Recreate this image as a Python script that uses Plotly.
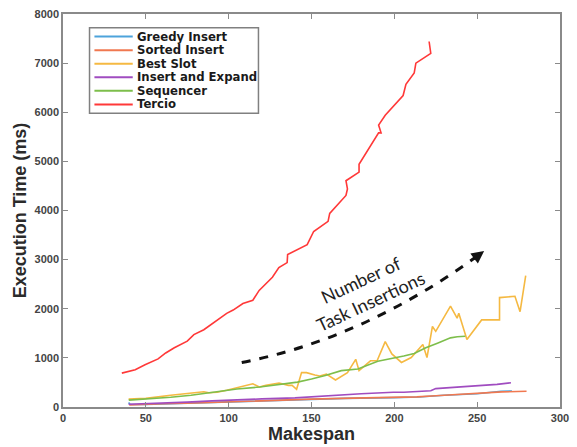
import plotly.graph_objects as go

# ---------------- data ----------------
series_names = ["Greedy Insert", "Sorted Insert", "Best Slot",
                "Insert and Expand", "Sequencer", "Tercio"]
series_colors = ["#4DA3DB", "#F07850", "#F5B942", "#A04CC0", "#7DBE4B", "#FF3838"]

greedy_x = [39.6, 40.5, 50, 60, 80, 98.8, 120, 150, 170, 200, 215, 230, 250, 264.5, 271]
greedy_y = [90, 50, 52, 62, 78, 100, 120, 150, 175, 190, 205, 240, 270, 320, 327]

sorted_x = [40, 50, 60, 80, 98.8, 120, 150, 175, 199.4, 213.6, 225, 240, 255, 265, 279.8]
sorted_y = [40, 55, 65, 80, 105, 125, 160, 180, 195, 207, 230, 260, 285, 307, 320]

best_x = [39.6, 50, 65, 75, 85, 88, 93, 98.8, 110.6, 114.6, 118.5, 122.5, 130.4, 136, 138.3,
          141, 144, 147, 152, 155, 159, 164.5, 171.7, 176.7, 178.7, 185.6, 189.6, 194.5,
          198.5, 204.3, 210.2, 217.2, 219.7, 223, 225, 233.9, 237.9, 238.9, 243.8, 252.7,
          263.5, 263.5, 272.8, 275.9, 279.3]
best_y = [160, 175, 240, 270, 310, 290, 300, 340, 440, 473, 407, 440, 487, 440, 440,
          360, 700, 700, 650, 630, 670, 550, 700, 970, 740, 940, 940, 1330,
          1080, 907, 1007, 1273, 1007, 1640, 1540, 2053, 1807, 1907, 1373, 1773,
          1773, 2227, 2253, 1940, 2673]

expand_x = [39.6, 50, 60, 75, 90, 98.8, 120, 140, 150.4, 160, 180, 199.4, 205.7, 222, 225,
            240, 254.6, 262, 270.4]
expand_y = [55, 65, 80, 100, 125, 140, 165, 185, 207, 235, 270, 300, 300, 330, 375,
            410, 440, 460, 493]

seq_x = [39.7, 50, 57.5, 65, 77.3, 88, 98.8, 105, 118.8, 130, 141.5, 150, 158.3, 168, 178,
         190, 199.4, 205.7, 212, 219, 226, 233.9, 238, 242.8]
seq_y = [140, 160, 175, 200, 240, 290, 330, 367, 407, 460, 507, 570, 640, 740, 773,
         930, 990, 1040, 1090, 1207, 1300, 1407, 1430, 1440]

tercio_x = [35.5, 43.6, 49.5, 57.4, 62, 67.2, 75, 79, 85, 93, 98.8, 102.7, 108.6, 114.6,
            118.4, 126.4, 130.3, 135.3, 135.6, 147.4, 151.3, 160, 161, 170.8, 171.7, 170.8,
            178.7, 178.7, 190.5, 192, 190.5, 194.5, 205.3, 207, 212, 213, 222, 221]
tercio_y = [690, 760, 860, 980, 1100, 1207, 1340, 1473, 1573, 1773, 1907, 1973, 2107, 2173,
            2373, 2640, 2840, 2940, 3106, 3306, 3573, 3780, 3940, 4306, 4440, 4606,
            4780, 4940, 5580, 5580, 5740, 5940, 6340, 6570, 6800, 7000, 7200, 7440]

series_x = [greedy_x, sorted_x, best_x, expand_x, seq_x, tercio_x]
series_y = [greedy_y, sorted_y, best_y, expand_y, seq_y, tercio_y]

x_ticks = [0, 50, 100, 150, 200, 250, 300]
y_ticks = [0, 1000, 2000, 3000, 4000, 5000, 6000, 7000, 8000]

# arrow (data coords): start, control, end
arrow_start = (107.9, 906)
arrow_ctrl = (183.2, 1400)
arrow_end = (254.2, 3174)
arrow_text = "Number of<br>Task Insertions"
arrow_text_pos = (182.5, 2370)

# ---------------- figure ----------------
W, H = 577, 447
ML, MR, MT, MB = 63, 8, 12, 35
PW, PH = W - ML - MR, H - MT - MB


def px_x(p):
    return (p - ML) / PW


def px_y(p):
    return (H - MB - p) / PH


fig = go.Figure()
for name, color, xs, ys in zip(series_names, series_colors, series_x, series_y):
    fig.add_trace(go.Scatter(x=xs, y=ys, mode="lines", name=name,
                             line=dict(color=color, width=1.6),
                             showlegend=False))

axis_common = dict(
    showline=True, linecolor="#8a8a8a", linewidth=1.5, mirror="allticks",
    ticks="inside", ticklen=5, tickwidth=1.2, tickcolor="#8a8a8a",
    showgrid=False, zeroline=False,
    tickfont=dict(family="Liberation Sans, Arial", size=11, color="#444444", weight="bold"),
)

fig.update_layout(
    width=W, height=H,
    margin=dict(l=ML, r=MR, t=MT, b=MB, pad=0),
    paper_bgcolor="white", plot_bgcolor="white",
    xaxis=dict(range=[0, 300], tickvals=x_ticks, ticktext=[str(v) for v in x_ticks],
               title=dict(text="Makespan", standoff=2,
                          font=dict(family="Liberation Sans, Arial", size=18,
                                    color="#2b2b2b", weight="bold")),
               **axis_common),
    yaxis=dict(range=[0, 8000], tickvals=y_ticks, ticktext=[str(v) for v in y_ticks],
               title=dict(text="Execution Time (ms)", standoff=3,
                          font=dict(family="Liberation Sans, Arial", size=18,
                                    color="#2b2b2b", weight="bold")),
               **axis_common),
    showlegend=False,
)

# curved dashed arrow
(x0, y0), (cx, cy), (x1, y1) = arrow_start, arrow_ctrl, arrow_end
fig.add_shape(type="path", xref="x", yref="y",
              path=f"M {x0},{y0} Q {cx},{cy} {x1},{y1}",
              line=dict(color="#111111", width=3, dash="dash"))
fig.add_annotation(x=x1, y=y1, xref="x", yref="y", ax=-12, ay=9, text="",
                   showarrow=True, arrowhead=2, arrowsize=1, arrowwidth=2.5,
                   arrowcolor="#111111")
fig.add_annotation(x=arrow_text_pos[0], y=arrow_text_pos[1], xref="x", yref="y",
                   text=arrow_text, showarrow=False, textangle=-25,
                   font=dict(family="Lato, Liberation Sans", size=18, color="#222222"),
                   align="center")

# legend box (custom, compact like MATLAB)
fig.add_shape(type="rect", xref="paper", yref="paper",
              x0=px_x(90), x1=px_x(262), y0=px_y(113), y1=px_y(26),
              line=dict(color="#808080", width=1.5), fillcolor="white", layer="above")
for i, (name, color) in enumerate(zip(series_names, series_colors)):
    yc = px_y(35 + 13.8 * i)
    fig.add_shape(type="line", xref="paper", yref="paper",
                  x0=px_x(95), x1=px_x(134), y0=yc, y1=yc,
                  line=dict(color=color, width=2), layer="above")
    fig.add_annotation(x=px_x(136), y=yc, xref="paper", yref="paper",
                       xanchor="left", yanchor="middle", showarrow=False, text=name,
                       font=dict(family="DejaVu Sans", size=11.7,
                                 color="#1a1a1a", weight="bold"))

fig.write_html("out.html")
